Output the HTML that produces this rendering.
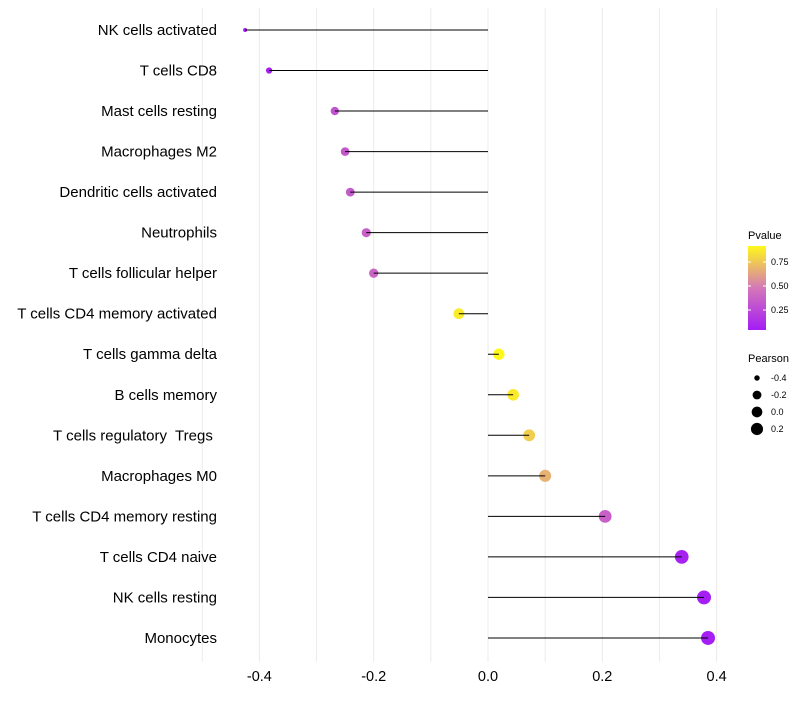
<!DOCTYPE html>
<html><head><meta charset="utf-8"><style>
body{margin:0;background:#fff;font-family:"Liberation Sans",sans-serif}
text{white-space:pre}
</style></head><body>
<svg id="c" width="800" height="700" xmlns="http://www.w3.org/2000/svg">
<defs><linearGradient id="pg" x1="0" y1="1" x2="0" y2="0">
<stop offset="0" stop-color="#A41CF5"/><stop offset="0.5" stop-color="#D478B8"/><stop offset="1" stop-color="#FFF81A"/></linearGradient></defs>
</svg>
<script>
const categories=["NK cells activated","T cells CD8","Mast cells resting","Macrophages M2","Dendritic cells activated","Neutrophils","T cells follicular helper","T cells CD4 memory activated","T cells gamma delta","B cells memory","T cells regulatory  Tregs ","Macrophages M0","T cells CD4 memory resting","T cells CD4 naive","NK cells resting","Monocytes"];
const pearson=[-0.425,-0.383,-0.268,-0.25,-0.241,-0.213,-0.2,-0.051,0.019,0.044,0.072,0.1,0.205,0.339,0.378,0.385];
const pvalues=[0.04,0.05,0.3,0.32,0.33,0.36,0.38,0.86,0.93,0.85,0.76,0.66,0.36,0.07,0.05,0.05];
const xTicks=[-0.4,-0.2,0,0.2,0.4];
const xTickLabels=["-0.4","-0.2","0.0","0.2","0.4"];
const svg=document.getElementById('c');const NS="http://www.w3.org/2000/svg";
function el(t,a,p){const e=document.createElementNS(NS,t);for(const k in a)e.setAttribute(k,a[k]);(p||svg).appendChild(e);return e;}
const xs=v=>488+v*571.5;
const ys=i=>30+i*40.53;
const rs=v=>2+5*Math.sqrt(Math.max(0,(v+0.425)/0.81));
function pcol(p){const t=Math.max(0,Math.min(1,(p-0.04)/0.86));
 const s=[[164,28,245],[212,120,184],[255,248,26]];
 const a=t<0.5?s[0]:s[1],b=t<0.5?s[1]:s[2],u=t<0.5?t*2:(t-0.5)*2;
 return `rgb(${a.map((x,i)=>Math.round(x+(b[i]-x)*u)).join(',')})`;}
for(let v=-0.5;v<=0.45;v+=0.1){const g=el('line',{x1:xs(v),x2:xs(v),y1:8,y2:662,stroke:'#ebebeb','stroke-width':1});
}
xTicks.forEach((v,i)=>{const t=el('text',{x:xs(v),y:681,'text-anchor':'middle','font-size':14.5,fill:'#000'});t.textContent=xTickLabels[i];
});
categories.forEach((c,i)=>{
 const y=ys(i);
 const t=el('text',{x:217,y:y+5,'text-anchor':'end','font-size':15,fill:'#000'});t.textContent=c;
 
 const d=el('circle',{cx:xs(pearson[i]),cy:y,r:rs(pearson[i]),fill:pcol(pvalues[i])});
 
 const l=el('line',{x1:xs(0),x2:xs(pearson[i]),y1:y,y2:y,stroke:'#000','stroke-width':1});
 
});
const lt=el('text',{x:748,y:239,'font-size':11});lt.textContent='Pvalue';

const bar=el('rect',{x:748,y:246,width:18,height:84,fill:'url(#pg)'});

[[0.75,262],[0.50,286],[0.25,310]].forEach(([v,y])=>{
 el('line',{x1:748,x2:751,y1:y,y2:y,stroke:'#fff','stroke-width':1});el('line',{x1:763,x2:766,y1:y,y2:y,stroke:'#fff','stroke-width':1});
 const t=el('text',{x:771,y:y+3,'font-size':9});t.textContent=v.toFixed(2);
 });
const st=el('text',{x:748,y:362,'font-size':11});st.textContent='Pearson';

[[-0.4,378],[-0.2,395],[0,412],[0.2,429]].forEach(([v,y])=>{
 const c=el('circle',{cx:757,cy:y,r:rs(v)*0.95,fill:'#000'});
 
 const t=el('text',{x:771,y:y+3,'font-size':9});t.textContent=v.toFixed(1);
 });
</script>
</body></html>
